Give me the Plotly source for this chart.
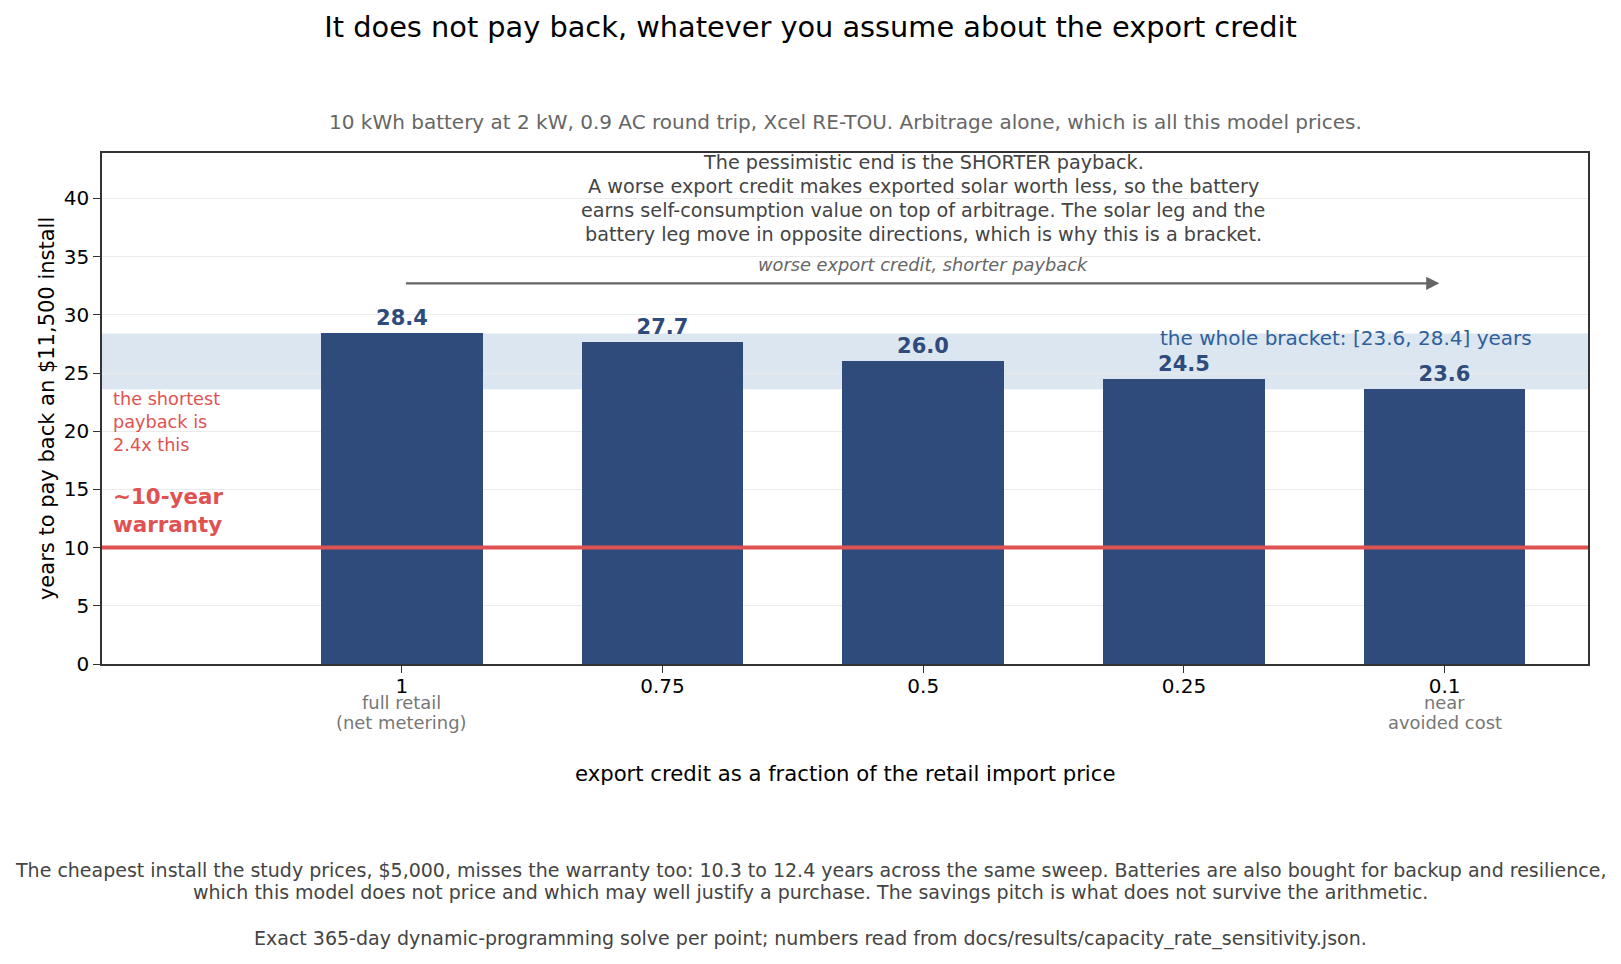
import plotly.graph_objects as go

# export credit as fraction of retail import price
credit_labels = ["1", "0.75", "0.5", "0.25", "0.1"]
payback_years = [28.4, 27.7, 26.0, 24.5, 23.6]
credit_notes = {"1": ["full retail", "(net metering)"], "0.1": ["near", "avoided cost"]}
warranty_years = 10
y_ticks = [0, 5, 10, 15, 20, 25, 30, 35, 40]

box_lines = [
    "The pessimistic end is the SHORTER payback.",
    "A worse export credit makes exported solar worth less, so the battery",
    "earns self-consumption value on top of arbitrage. The solar leg and the",
    "battery leg move in opposite directions, which is why this is a bracket.",
]
footer_lines = [
    "The cheapest install the study prices, $5,000, misses the warranty too: 10.3 to 12.4 years "
    "across the same sweep. Batteries are also bought for backup and resilience,",
    "which this model does not price and which may well justify a purchase. "
    "The savings pitch is what does not survive the arithmetic.",
    "Exact 365-day dynamic-programming solve per point; numbers read from "
    "docs/results/capacity_rate_sensitivity.json.",
]

FONT = "DejaVu Sans"
BAR = "#2f4b7c"
RED = "#e05252"

lo, hi = min(payback_years), max(payback_years)
idx = {lab: i for i, lab in enumerate(credit_labels)}

fig = go.Figure()
fig.add_trace(go.Bar(
    x=credit_labels, y=payback_years, width=0.62,
    marker=dict(color=BAR, line=dict(width=0)),
    text=[f"{v:.1f}" for v in payback_years], textposition="outside",
    textfont=dict(family=FONT, size=21, color=BAR),
    texttemplate="<b>%{text}</b>", cliponaxis=False,
))

# the bracket band and the warranty line
fig.add_shape(type="rect", xref="paper", yref="y", x0=0, x1=1, y0=lo, y1=hi,
              fillcolor="#dce6f0", line_width=0, layer="below")
fig.add_shape(type="line", xref="paper", yref="y", x0=0, x1=1,
              y0=warranty_years, y1=warranty_years, line=dict(color=RED, width=4))

ann = []
ann.append(dict(x=idx["0.1"] - 0.02, y=32.7, ax=idx["1"] + 0.01, ay=32.7,
                xref="x", yref="y", axref="x", ayref="y",
                text="", showarrow=True, arrowhead=2, arrowsize=1.1, arrowwidth=2.4,
                arrowcolor="#666666"))
ann.append(dict(x=idx["0.5"], y=34.3, xref="x", yref="y", showarrow=False,
                text="<i>worse export credit, shorter payback</i>",
                font=dict(family=FONT, size=17.8, color="#666666")))
for i, line in enumerate(box_lines):
    ann.append(dict(x=idx["0.5"], y=0.9806 - i * 0.0465, xref="x", yref="paper",
                    showarrow=False, yanchor="middle", text=line,
                    font=dict(family=FONT, size=19.2, color="#444444")))
ann.append(dict(x=2.9, y=hi - 0.43, xref="x", yref="y", showarrow=False,
                xanchor="left", yanchor="middle",
                text=f"the whole bracket: [{lo}, {hi}] years",
                font=dict(family=FONT, size=20, color="#2f5f9a")))
ann.append(dict(x=0.0058, y=20.76, xref="paper", yref="y", showarrow=False,
                xanchor="left", yanchor="middle", align="left",
                text=f"the shortest<br>payback is<br>{lo / warranty_years:.1f}x this",
                font=dict(family=FONT, size=17.7, color=RED)))
ann.append(dict(x=0.0058, y=13.18, xref="paper", yref="y", showarrow=False,
                xanchor="left", yanchor="middle", align="left",
                text="<b>~10-year<br>warranty</b>",
                font=dict(family=FONT, size=21.4, color=RED)))
for lab, note in credit_notes.items():
    for line, py in zip(note, [-0.0745, -0.1146]):
        ann.append(dict(x=idx[lab], y=py, xref="x", yref="paper", showarrow=False,
                        xanchor="center", yanchor="middle", text=line,
                        font=dict(family=FONT, size=17.9, color="#777777")))
ann.append(dict(x=0.5, y=1.0607, xref="paper", yref="paper", showarrow=False,
                xanchor="center", yanchor="middle",
                text="10 kWh battery at 2 kW, 0.9 AC round trip, Xcel RE-TOU. "
                     "Arbitrage alone, which is all this model prices.",
                font=dict(family=FONT, size=20, color="#666666")))
ann.append(dict(x=0.5, y=-0.2145, xref="paper", yref="paper", showarrow=False,
                xanchor="center", yanchor="middle",
                text="export credit as a fraction of the retail import price",
                font=dict(family=FONT, size=21.2, color="black")))
ann.append(dict(x=-0.0373, y=0.5, xref="paper", yref="paper", showarrow=False,
                xanchor="center", yanchor="middle", textangle=-90,
                text="years to pay back an $11,500 install",
                font=dict(family=FONT, size=21, color="black")))
for line, py in zip(footer_lines, [-0.4025, -0.4455, -0.5375]):
    ann.append(dict(x=0.4768, y=py, xref="paper", yref="paper", showarrow=False,
                    xanchor="center", yanchor="middle",
                    text=line, font=dict(family=FONT, size=19, color="#444444")))

# page body adds an 8px margin, so the figure is drawn 8px smaller each way
fig.update_layout(
    width=1605, height=948,
    margin=dict(l=94, r=25, t=145, b=292),
    paper_bgcolor="white", plot_bgcolor="white",
    font=dict(family=FONT, size=20, color="black"),
    showlegend=False, bargap=0,
    title=dict(text="It does not pay back, whatever you assume about the export credit",
               x=0.5, xanchor="center", y=0.9805, yanchor="middle", yref="container",
               font=dict(family=FONT, size=28.8, color="black")),
    annotations=ann,
)
fig.update_xaxes(type="category", range=[-1.15, 4.55],
                 showline=True, linecolor="#333333", linewidth=1.5, mirror=True,
                 ticks="outside", ticklen=7, tickcolor="#333333", showgrid=False,
                 ticklabelstandoff=-4,
                 tickfont=dict(family=FONT, size=20, color="black"))
fig.update_yaxes(range=[0, 43.9], tickvals=y_ticks,
                 showline=True, linecolor="#333333", linewidth=1.5, mirror=True,
                 ticks="outside", ticklen=7, tickcolor="#333333",
                 showgrid=True, gridcolor="#ebebeb", gridwidth=1, zeroline=False,
                 tickfont=dict(family=FONT, size=20, color="black"))

fig.write_html("out.html")
